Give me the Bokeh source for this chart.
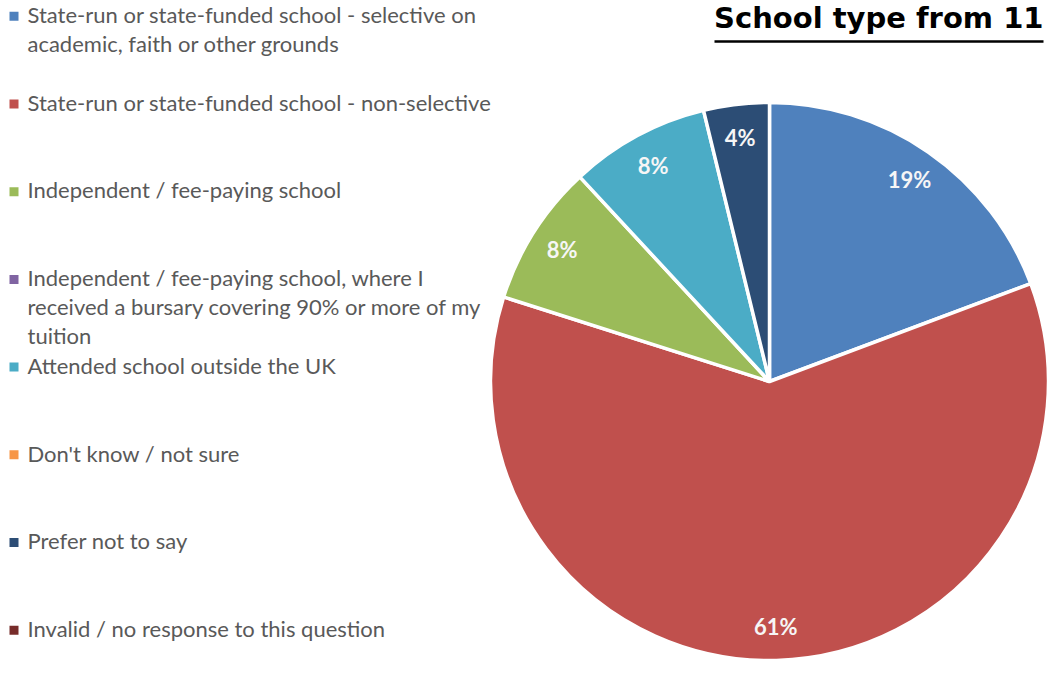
import math
from bokeh.plotting import figure
from bokeh.models import Range1d, ColumnDataSource
from bokeh.core.properties import value
from bokeh.embed import file_html
from bokeh.resources import INLINE

# ---- data ----
categories = [
    "State-run or state-funded school - selective on\nacademic, faith or other grounds",
    "State-run or state-funded school - non-selective",
    "Independent / fee-paying school",
    "Independent / fee-paying school, where I\nreceived a bursary covering 90% or more of my\ntuition",
    "Attended school outside the UK",
    "Don't know / not sure",
    "Prefer not to say",
    "Invalid / no response to this question",
]
shares = [19.3, 60.6, 8.2, 0.0, 8.1, 0.0, 3.8, 0.0]
colors = ["#4F81BD", "#C0504D", "#9BBB59", "#8064A2", "#4BACC6", "#F79646", "#2C4D75", "#772C2A"]
title_text = "School type from 11"

W, H = 1048, 659

def X(sx):
    return sx

def Y(sy):
    return H - sy

p = figure(width=W, height=H, x_range=Range1d(0, W), y_range=Range1d(0, H),
           output_backend="svg", toolbar_location=None,
           x_axis_location=None, y_axis_location=None, min_border=0)
p.grid.visible = False
p.outline_line_color = None
p.background_fill_color = "white"

# ---- pie ----
cx, cy, R = X(769), Y(381), 279
total = sum(shares)
starts, ends, cols, mids, labels = [], [], [], [], []
cum = 0.0
for v, c in zip(shares, colors):
    if v > 0:
        a0 = math.pi / 2 - 2 * math.pi * cum / total
        a1 = math.pi / 2 - 2 * math.pi * (cum + v) / total
        starts.append(a0)
        ends.append(a1)
        cols.append(c)
        mids.append((a0 + a1) / 2)
        labels.append(f"{round(v)}%")
    cum += v

src = ColumnDataSource(dict(start=starts, end=ends, color=cols))
p.wedge(x=cx, y=cy, radius=R, start_angle="start", end_angle="end",
        direction="clock", fill_color="color", line_color="white",
        line_width=3.5, source=src)

rl = 0.88 * R
lsrc = ColumnDataSource(dict(
    x=[cx + rl * math.cos(m) for m in mids],
    y=[cy + rl * math.sin(m) for m in mids],
    t=labels))
p.text(x="x", y="y", text="t", source=lsrc, text_color="#F6F6F6",
       text_font=value("Lato"), text_font_style="bold", text_font_size="22px",
       text_align="center", text_baseline="middle")

# ---- legend ----
lx, ly, ls = [], [], []
mx, my, mc = [], [], []
for i, (cat, c) in enumerate(zip(categories, colors)):
    base = 15.5 + i * 87.7
    mx.append(X(13.5))
    my.append(Y(base + 0.3))
    mc.append(c)
    for k, line in enumerate(cat.split("\n")):
        lx.append(X(27))
        ly.append(Y(base - 1.5 + k * 29))
        ls.append(line)

p.rect(x=mx, y=my, width=9, height=9, fill_color=mc, line_color=None)
p.text(x=lx, y=ly, text=ls, text_color="#595959", text_font=value("Lato"),
       text_font_size="22px", text_align="left", text_baseline="middle")

# ---- title ----
p.text(x=[X(1043)], y=[Y(17)], text=[title_text], text_color="black",
       text_font=value("DejaVu Sans"), text_font_style="bold", text_font_size="29px",
       text_align="right", text_baseline="middle")
p.segment(x0=[X(714)], y0=[Y(41)], x1=[X(1043)], y1=[Y(41)],
          line_color="black", line_width=2.5)

open("out.html", "w").write(file_html(p, INLINE))
